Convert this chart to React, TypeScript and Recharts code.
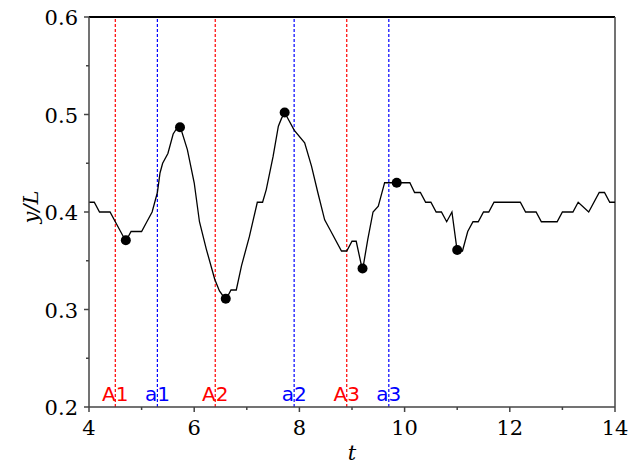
import { ComposedChart, Line, Scatter, XAxis, YAxis, ReferenceLine } from 'recharts';

// sampled trajectory y/L over time t
const tValues = [
  4.0, 4.1, 4.2, 4.4, 4.5, 4.6, 4.7, 4.8, 5.0, 5.1, 5.2, 5.3, 5.35, 5.4, 5.5, 5.6, 5.72,
  5.87, 6.0, 6.1, 6.23, 6.39, 6.48, 6.6, 6.7, 6.8, 6.9, 7.05, 7.2, 7.3, 7.37, 7.5, 7.6,
  7.66, 7.72, 7.9, 8.1, 8.23, 8.35, 8.48, 8.58, 8.8, 8.9, 9.0, 9.08, 9.2, 9.3, 9.4, 9.5,
  9.6, 9.62, 10.1, 10.19, 10.3, 10.4, 10.5, 10.6, 10.7, 10.8, 10.9, 11.0, 11.1, 11.2,
  11.3, 11.4, 11.5, 11.6, 11.7, 12.2, 12.3, 12.5, 12.6, 12.9, 13.0, 13.2, 13.3, 13.5,
  13.7, 13.8, 13.9, 14.0,
];
const yValues = [
  0.41, 0.41, 0.40, 0.40, 0.39, 0.38, 0.37, 0.38, 0.38, 0.39, 0.40, 0.42, 0.44, 0.45, 0.46, 0.48, 0.49,
  0.464, 0.43, 0.39, 0.362, 0.331, 0.319, 0.31, 0.32, 0.32, 0.345, 0.375, 0.41, 0.41, 0.423, 0.457, 0.488,
  0.496, 0.502, 0.484, 0.471, 0.447, 0.42, 0.392, 0.382, 0.36, 0.36, 0.37, 0.37, 0.34, 0.372, 0.40, 0.406,
  0.426, 0.43, 0.43, 0.42, 0.42, 0.41, 0.41, 0.40, 0.40, 0.39, 0.40, 0.36, 0.36, 0.38,
  0.39, 0.39, 0.40, 0.40, 0.41, 0.41, 0.40, 0.40, 0.39, 0.39, 0.40, 0.40, 0.41, 0.40,
  0.42, 0.42, 0.41, 0.41,
];

// local extrema
const extremaT = [4.7, 5.73, 6.6, 7.72, 9.2, 9.85, 11.0];
const extremaY = [0.371, 0.487, 0.311, 0.502, 0.342, 0.43, 0.361];

// event markers
const eventNames = ['A1', 'a1', 'A2', 'a2', 'A3', 'a3'];
const eventTimes = [4.5, 5.3, 6.4, 7.9, 8.9, 9.7];
const eventColors = ['#ff0000', '#0000ff', '#ff0000', '#0000ff', '#ff0000', '#0000ff'];

const xTicks = [4, 5, 6, 7, 8, 9, 10, 11, 12, 13, 14];
const xLabels = [4, 6, 8, 10, 12, 14];
const yTicks = [0.2, 0.25, 0.3, 0.35, 0.4, 0.45, 0.5, 0.55, 0.6];
const yLabels = [0.2, 0.3, 0.4, 0.5, 0.6];

const series = tValues.map((t, i) => ({ t, y: yValues[i] }));
const extrema = extremaT.map((t, i) => ({ t, y: extremaY[i] }));

const serif = '"DejaVu Serif", serif';
const axisColor = '#444';

function XTick({ x, y, payload }: any) {
  const major = xLabels.includes(payload.value);
  return (
    <g>
      <line x1={x} x2={x} y1={y} y2={y + (major ? 5 : 3)} stroke={axisColor} strokeWidth={1.5} />
      {major && (
        <text x={x} y={y + 28} textAnchor="middle" fontFamily={serif} fontSize={21} fill="#000">
          {payload.value}
        </text>
      )}
    </g>
  );
}

function YTick({ x, y, payload }: any) {
  const major = yLabels.some((v) => Math.abs(v - payload.value) < 1e-6);
  return (
    <g>
      <line x1={x - (major ? 5 : 3)} x2={x} y1={y} y2={y} stroke={axisColor} strokeWidth={1.5} />
      {major && (
        <text x={x - 11} y={y + 8} textAnchor="end" fontFamily={serif} fontSize={21} fill="#000">
          {payload.value.toFixed(1)}
        </text>
      )}
    </g>
  );
}

const Dot = (props: any) => <circle cx={props.cx} cy={props.cy} r={5} fill="#000" />;

export default function App() {
  return (
    <div style={{ position: 'absolute', left: 0, top: 0, width: 644, height: 463, background: '#fff' }}>
      <ComposedChart width={644} height={463} margin={{ top: 17, right: 29, bottom: 0, left: 0 }}>
        <XAxis
          dataKey="t"
          type="number"
          domain={[4, 14]}
          ticks={xTicks}
          allowDataOverflow
          interval={0}
          tickSize={0}
          tickMargin={0}
          tickLine={false}
          tick={<XTick />}
          height={56}
          stroke={axisColor}
          strokeWidth={1.5}
        />
        <YAxis
          type="number"
          domain={[0.2, 0.6]}
          ticks={yTicks}
          allowDataOverflow
          interval={0}
          tickSize={0}
          tickMargin={0}
          tickLine={false}
          tick={<YTick />}
          width={89}
          stroke={axisColor}
          strokeWidth={1.5}
        />
        <ReferenceLine y={0.6} stroke="#000" strokeWidth={2} />
        <ReferenceLine x={14} stroke={axisColor} strokeWidth={1.5} />
        {eventNames.map((name, i) => (
          <ReferenceLine
            key={name}
            x={eventTimes[i]}
            stroke={eventColors[i]}
            strokeWidth={1.2}
            strokeDasharray="3 2"
            label={{
              value: name,
              position: 'insideBottom',
              offset: 6,
              fill: eventColors[i],
              fontSize: 20,
              fontFamily: '"DejaVu Sans", sans-serif',
            }}
          />
        ))}
        <Line
          data={series}
          dataKey="y"
          type="linear"
          stroke="#000"
          strokeWidth={1.3}
          dot={false}
          isAnimationActive={false}
        />
        <Scatter data={extrema} dataKey="y" shape={<Dot />} isAnimationActive={false} />
      </ComposedChart>
      <div
        style={{
          position: 'absolute',
          left: 352,
          top: 453,
          transform: 'translate(-50%, -50%)',
          fontFamily: serif,
          fontStyle: 'italic',
          fontSize: 21,
          lineHeight: 1,
        }}
      >
        t
      </div>
      <div
        style={{
          position: 'absolute',
          left: 31,
          top: 207,
          transform: 'translate(-50%, -50%) rotate(-90deg)',
          fontFamily: serif,
          fontStyle: 'italic',
          fontSize: 21,
          lineHeight: 1,
          whiteSpace: 'nowrap',
        }}
      >
        y/L
      </div>
    </div>
  );
}
